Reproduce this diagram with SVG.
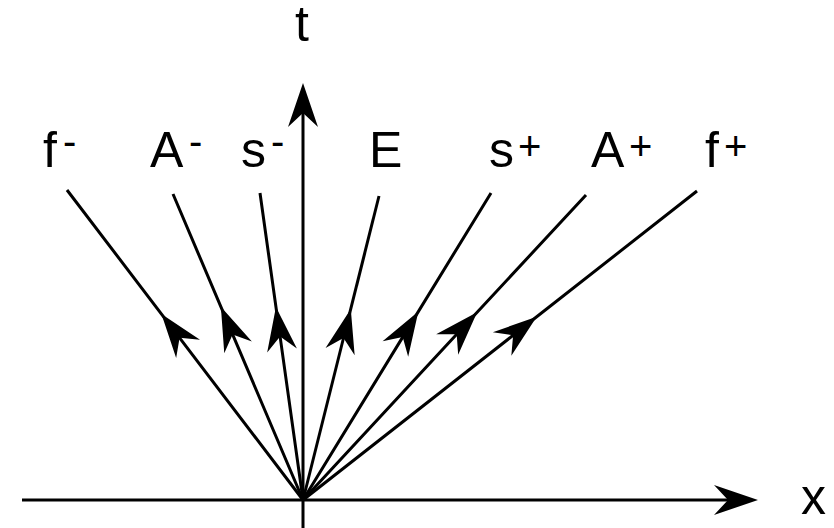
<svg xmlns="http://www.w3.org/2000/svg" width="834" height="528" viewBox="0 0 834 528">
<style>
.ln{stroke:#000;stroke-width:3;fill:none}
.ax{marker-end:url(#ah)}
.ray{marker-mid:url(#ah)}
.lbl{font-family:"Liberation Sans",Arial,sans-serif;font-size:50px;fill:#000}
.sup{font-family:"Liberation Sans",Arial,sans-serif;font-size:40px;fill:#000}
</style>
<defs>
<marker id="ah" markerUnits="userSpaceOnUse" viewBox="0 0 44 30" markerWidth="44" markerHeight="30" refX="14" refY="15" orient="auto" overflow="visible">
<path d="M0,0 L44,15 L0,30 L14,15 Z" fill="#000"/>
</marker>
</defs>
<rect width="834" height="528" fill="#fff"/>
<g id="connectors">
<line id="x-axis" class="ln ax" x1="22" y1="500" x2="728" y2="500"/>
<line id="t-axis" class="ln ax" x1="303" y1="528" x2="303" y2="113"/>
<polyline id="ray-fminus" class="ln ray" points="303,500 179.6,337.8 67,190"/>
<polyline id="ray-Aminus" class="ln ray" points="303,500 232.6,334.4 173,194"/>
<polyline id="ray-sminus" class="ln ray" points="303,500 280.1,336.6 260,193"/>
<polyline id="ray-E" class="ln ray" points="303,500 343.5,338 379,196"/>
<polyline id="ray-splus" class="ln ray" points="303,500 402.7,337.1 491,193"/>
<polyline id="ray-Aplus" class="ln ray" points="303,500 456.7,334.3 586,195"/>
<polyline id="ray-fplus" class="ln ray" points="303,500 513.1,335.3 697,191"/>
</g>
<g id="label-t"><text class="lbl" x="295" y="41">t</text></g>
<g id="label-x"><text class="lbl" x="801" y="514">x</text></g>
<g id="label-fminus"><text class="lbl" x="43" y="167">f</text><text class="sup" x="63" y="155">-</text></g>
<g id="label-Aminus"><text class="lbl" x="150" y="167">A</text><text class="sup" x="189" y="155">-</text></g>
<g id="label-sminus"><text class="lbl" x="241" y="167">s</text><text class="sup" x="271" y="155">-</text></g>
<g id="label-E"><text class="lbl" x="369" y="167">E</text></g>
<g id="label-splus"><text class="lbl" x="489" y="167">s</text><text class="sup" x="518" y="160">+</text></g>
<g id="label-Aplus"><text class="lbl" x="591" y="167">A</text><text class="sup" x="629" y="160">+</text></g>
<g id="label-fplus"><text class="lbl" x="705" y="167">f</text><text class="sup" x="724" y="160">+</text></g>
</svg>
